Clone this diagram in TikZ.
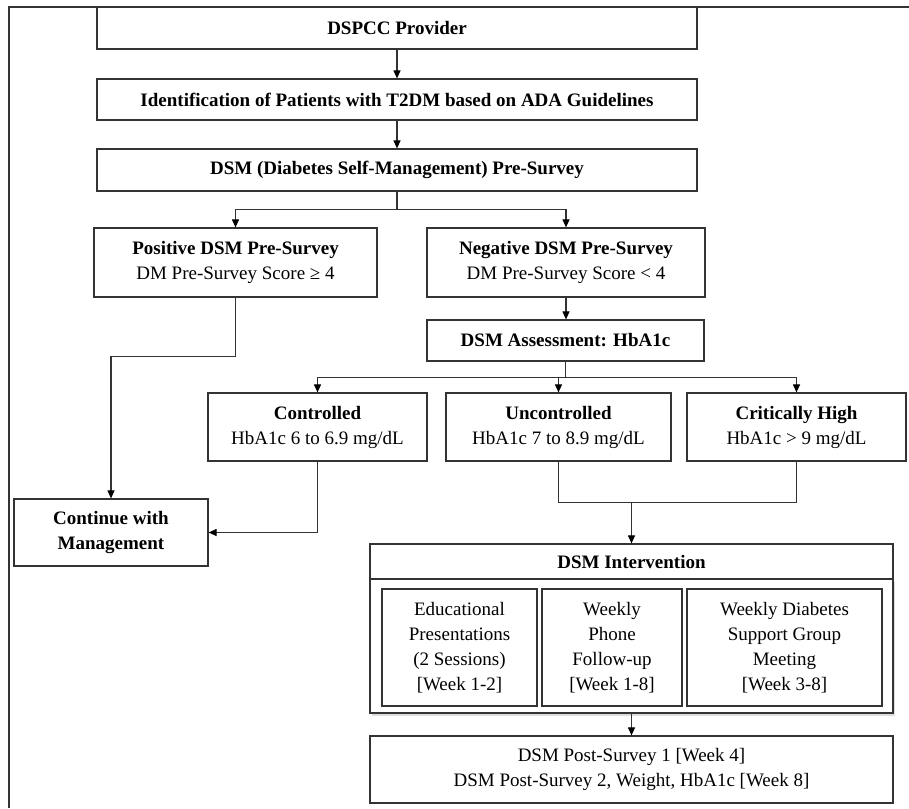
\documentclass[tikz,border=0pt]{standalone}
\usepackage{fontspec}
\setmainfont{Liberation Serif}
\usetikzlibrary{arrows.meta,shadows}
\definecolor{edge}{HTML}{333333}
\tikzset{
  >={Triangle[length=8pt,width=7pt,color=black]},
  bx/.style={draw=edge,line width=1.2pt,inner sep=2pt,align=center,fill=white},
  ln/.style={draw=edge,line width=1.1pt},
  shd/.style={drop shadow={shadow xshift=1.5pt,shadow yshift=-2.5pt,opacity=.22,fill=black!60}},
  every node/.style={font=\fontsize{19}{25}\selectfont},
}
\begin{document}
\begin{tikzpicture}[x=1pt,y=-1pt]
\useasboundingbox (0,0) rectangle (909,808);
\draw[ln] (909,7) -- (9,7) -- (9,808);
% top column
\node[bx,minimum width=600,minimum height=42] (prov) at (397,28){\textbf{DSPCC Provider}};
\node[bx,minimum width=600,minimum height=41] (ident) at (397,99.5){\textbf{Identification of Patients with T2DM based on ADA Guidelines}};
\node[bx,minimum width=600,minimum height=42] (pre) at (397,170){\textbf{DSM (Diabetes Self-Management) Pre-Survey}};
\node[bx,minimum width=283,minimum height=69] (pos) at (235.5,262.5){\textbf{Positive DSM Pre-Survey}\\DM Pre-Survey Score ≥ 4};
\node[bx,minimum width=278,minimum height=69] (neg) at (566,262.5){\textbf{Negative DSM Pre-Survey}\\DM Pre-Survey Score < 4};
\node[bx,minimum width=277,minimum height=41] (assess) at (565.5,340.5){\textbf{DSM Assessment: HbA1c}};
% HbA1c groups
\node[bx,minimum width=219,minimum height=68] (ctrl) at (317.5,427){\textbf{Controlled}\\HbA1c 6 to 6.9 mg/dL};
\node[bx,minimum width=225,minimum height=68] (unc) at (558.5,427){\textbf{Uncontrolled}\\HbA1c 7 to 8.9 mg/dL};
\node[bx,minimum width=219,minimum height=68] (crit) at (796.5,427){\textbf{Critically High}\\HbA1c > 9 mg/dL};
\node[bx,minimum width=194,minimum height=67] (cont) at (111,532.5){\textbf{Continue with}\\\textbf{Management}};
% intervention
\node[bx,shd,minimum width=523,minimum height=134] (grp) at (631.5,646){};
\node[bx,minimum width=523,minimum height=35] (intv) at (631.5,561.5){\textbf{DSM Intervention}};
\node[bx,minimum width=155,minimum height=117] (edu) at (459.5,647.5){Educational\\Presentations\\(2 Sessions)\\{[Week 1-2]}};
\node[bx,minimum width=140,minimum height=117] (phone) at (612,647.5){Weekly\\Phone\\Follow-up\\{[Week 1-8]}};
\node[bx,minimum width=195,minimum height=117] (supp) at (784.5,647.5){Weekly Diabetes\\Support Group\\Meeting\\{[Week 3-8]}};
\node[bx,minimum width=523,minimum height=67] (post) at (631.5,769.5){DSM Post-Survey 1 [Week 4]\\DSM Post-Survey 2, Weight, HbA1c [Week 8]};
% connectors
\draw[->,ln] (prov.south)--(ident.north); \draw[->,ln] (ident.south)--(pre.north);
\draw[ln] (pre.south)--++(0,18) coordinate (sp);
\draw[->,ln] (sp)-|(pos.north); \draw[->,ln] (sp)-|(neg.north);
\draw[->,ln] (neg.south)--(neg.south|-assess.north);
\draw[ln] (assess.south)--++(0,16) coordinate (sa);
\draw[->,ln] (sa)-|(ctrl.north); \draw[->,ln] (sa)-|(unc.north); \draw[->,ln] (sa)-|(crit.north);
\draw[->,ln] (pos.south)--++(0,59)-|(cont.north);
\draw[->,ln] (ctrl.south)|-(cont.east);
\draw[ln] (unc.south)--++(0,41) coordinate (sm)-|(crit.south);
\draw[->,ln] (sm-|intv.north)--(intv.north);
\draw[->,ln] (grp.south)--(post.north);
\end{tikzpicture}
\end{document}
